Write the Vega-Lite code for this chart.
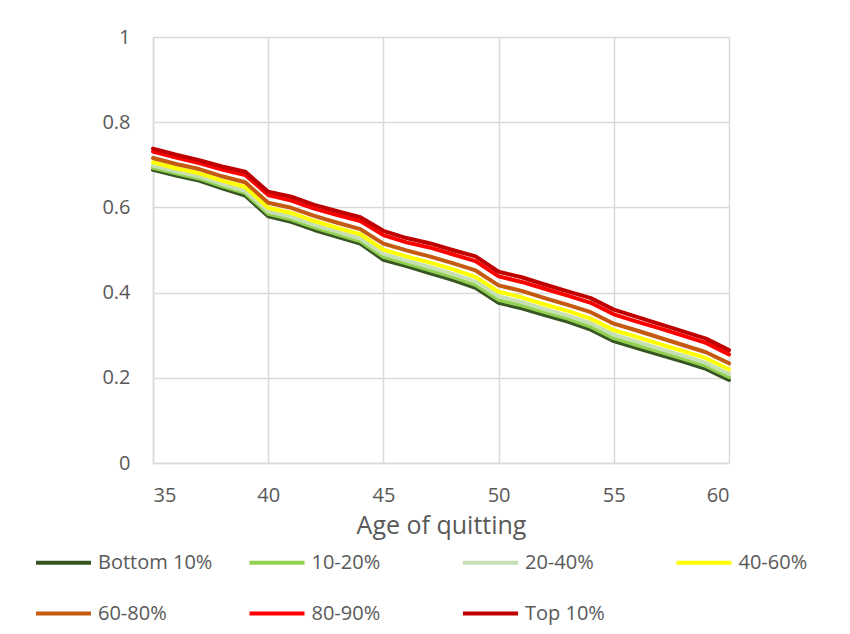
{
  "$schema": "https://vega.github.io/schema/vega-lite/v6.json",
  "width": 576,
  "height": 426,
  "autosize": {"type": "none"},
  "padding": {"left": 153, "top": 37, "right": 121, "bottom": 171},
  "background": "white",
  "config": {
    "view": {"stroke": null},
    "font": "Open Sans"
  },
  "datasets": {
    "wide": [
      {"age": 35, "b": 0.688, "g1": 0.693, "g2": 0.698, "g3": 0.706, "g4": 0.716, "g5": 0.731, "t": 0.738},
      {"age": 36, "b": 0.675, "g1": 0.680, "g2": 0.685, "g3": 0.692, "g4": 0.702, "g5": 0.717, "t": 0.724},
      {"age": 37, "b": 0.663, "g1": 0.668, "g2": 0.673, "g3": 0.680, "g4": 0.690, "g5": 0.704, "t": 0.711},
      {"age": 38, "b": 0.645, "g1": 0.650, "g2": 0.655, "g3": 0.663, "g4": 0.673, "g5": 0.689, "t": 0.696},
      {"age": 39, "b": 0.628, "g1": 0.634, "g2": 0.639, "g3": 0.648, "g4": 0.659, "g5": 0.676, "t": 0.684},
      {"age": 40, "b": 0.579, "g1": 0.585, "g2": 0.591, "g3": 0.599, "g4": 0.611, "g5": 0.629, "t": 0.637},
      {"age": 41, "b": 0.566, "g1": 0.572, "g2": 0.578, "g3": 0.587, "g4": 0.599, "g5": 0.616, "t": 0.625},
      {"age": 42, "b": 0.547, "g1": 0.553, "g2": 0.559, "g3": 0.568, "g4": 0.580, "g5": 0.597, "t": 0.606},
      {"age": 43, "b": 0.531, "g1": 0.537, "g2": 0.543, "g3": 0.552, "g4": 0.564, "g5": 0.582, "t": 0.591},
      {"age": 44, "b": 0.515, "g1": 0.521, "g2": 0.527, "g3": 0.537, "g4": 0.549, "g5": 0.568, "t": 0.577},
      {"age": 45, "b": 0.477, "g1": 0.484, "g2": 0.491, "g3": 0.501, "g4": 0.515, "g5": 0.535, "t": 0.545},
      {"age": 46, "b": 0.462, "g1": 0.469, "g2": 0.475, "g3": 0.485, "g4": 0.499, "g5": 0.518, "t": 0.528},
      {"age": 47, "b": 0.446, "g1": 0.453, "g2": 0.460, "g3": 0.471, "g4": 0.485, "g5": 0.506, "t": 0.516},
      {"age": 48, "b": 0.430, "g1": 0.437, "g2": 0.444, "g3": 0.455, "g4": 0.469, "g5": 0.490, "t": 0.500},
      {"age": 49, "b": 0.411, "g1": 0.418, "g2": 0.426, "g3": 0.437, "g4": 0.452, "g5": 0.474, "t": 0.485},
      {"age": 50, "b": 0.376, "g1": 0.383, "g2": 0.391, "g3": 0.402, "g4": 0.417, "g5": 0.438, "t": 0.449},
      {"age": 51, "b": 0.363, "g1": 0.370, "g2": 0.378, "g3": 0.389, "g4": 0.404, "g5": 0.425, "t": 0.436},
      {"age": 52, "b": 0.347, "g1": 0.354, "g2": 0.361, "g3": 0.372, "g4": 0.387, "g5": 0.409, "t": 0.419},
      {"age": 53, "b": 0.332, "g1": 0.339, "g2": 0.346, "g3": 0.357, "g4": 0.371, "g5": 0.393, "t": 0.403},
      {"age": 54, "b": 0.313, "g1": 0.320, "g2": 0.328, "g3": 0.339, "g4": 0.354, "g5": 0.376, "t": 0.387},
      {"age": 55, "b": 0.286, "g1": 0.293, "g2": 0.301, "g3": 0.312, "g4": 0.327, "g5": 0.349, "t": 0.360},
      {"age": 56, "b": 0.270, "g1": 0.277, "g2": 0.285, "g3": 0.296, "g4": 0.311, "g5": 0.332, "t": 0.343},
      {"age": 57, "b": 0.254, "g1": 0.261, "g2": 0.268, "g3": 0.279, "g4": 0.294, "g5": 0.316, "t": 0.326},
      {"age": 58, "b": 0.238, "g1": 0.245, "g2": 0.252, "g3": 0.263, "g4": 0.277, "g5": 0.299, "t": 0.309},
      {"age": 59, "b": 0.221, "g1": 0.228, "g2": 0.235, "g3": 0.246, "g4": 0.260, "g5": 0.282, "t": 0.292},
      {"age": 60, "b": 0.195, "g1": 0.202, "g2": 0.209, "g3": 0.220, "g4": 0.234, "g5": 0.255, "t": 0.265}
    ]
  },
  "data": {"name": "wide"},
  "transform": [
    {"fold": ["b", "g1", "g2", "g3", "g4", "g5", "t"], "as": ["key", "value"]},
    {"lookup": "key", "from": {"data": {"values": [
      {"key": "b", "group": "Bottom 10%"},
      {"key": "g1", "group": "10-20%"},
      {"key": "g2", "group": "20-40%"},
      {"key": "g3", "group": "40-60%"},
      {"key": "g4", "group": "60-80%"},
      {"key": "g5", "group": "80-90%"},
      {"key": "t", "group": "Top 10%"}
    ]}, "key": "key", "fields": ["group"]}}
  ],
  "mark": {"type": "line", "strokeWidth": 4, "strokeCap": "round", "strokeJoin": "round"},
  "encoding": {
    "x": {
      "field": "age", "type": "quantitative",
      "scale": {"domain": [35, 60], "nice": false, "zero": false},
      "axis": {
        "values": [35, 40, 45, 50, 55, 60],
        "title": "Age of quitting",
        "titleFont": "Open Sans", "titleFontSize": 25, "titleFontWeight": "normal", "titleColor": "#595959", "titlePadding": 8,
        "labelFont": "Open Sans", "labelFontSize": 20, "labelColor": "#595959", "labelPadding": 22,
        "ticks": false, "tickSize": 0,
        "grid": true, "gridColor": "#d9d9d9", "gridWidth": 1.5,
        "domainColor": "#d9d9d9", "domainWidth": 1.5
      }
    },
    "y": {
      "field": "value", "type": "quantitative",
      "scale": {"domain": [0, 1], "nice": false},
      "axis": {
        "values": [0, 0.2, 0.4, 0.6, 0.8, 1],
        "format": "~g",
        "title": null,
        "labelFont": "Open Sans", "labelFontSize": 20, "labelColor": "#595959", "labelPadding": 23,
        "ticks": false, "tickSize": 0,
        "grid": true, "gridColor": "#d9d9d9", "gridWidth": 1.5,
        "domainColor": "#d9d9d9", "domainWidth": 1.5
      }
    },
    "color": {
      "field": "group", "type": "nominal",
      "scale": {
        "domain": ["Bottom 10%", "10-20%", "20-40%", "40-60%", "60-80%", "80-90%", "Top 10%"],
        "range": ["#375623", "#92D050", "#C6E0B4", "#FFFF00", "#C55A11", "#FF0000", "#C00000"]
      },
      "legend": {
        "title": null,
        "orient": "none",
        "legendX": -119,
        "legendY": 496,
        "direction": "horizontal",
        "columns": 4,
        "gridAlign": "all",
        "columnPadding": 28.5,
        "rowPadding": 11,
        "padding": 0,
        "symbolType": "stroke",
        "symbolSize": 3025,
        "symbolStrokeWidth": 4,
        "labelFont": "Open Sans",
        "labelFontSize": 20,
        "labelColor": "#595959",
        "labelOffset": 5
      }
    }
  }
}
